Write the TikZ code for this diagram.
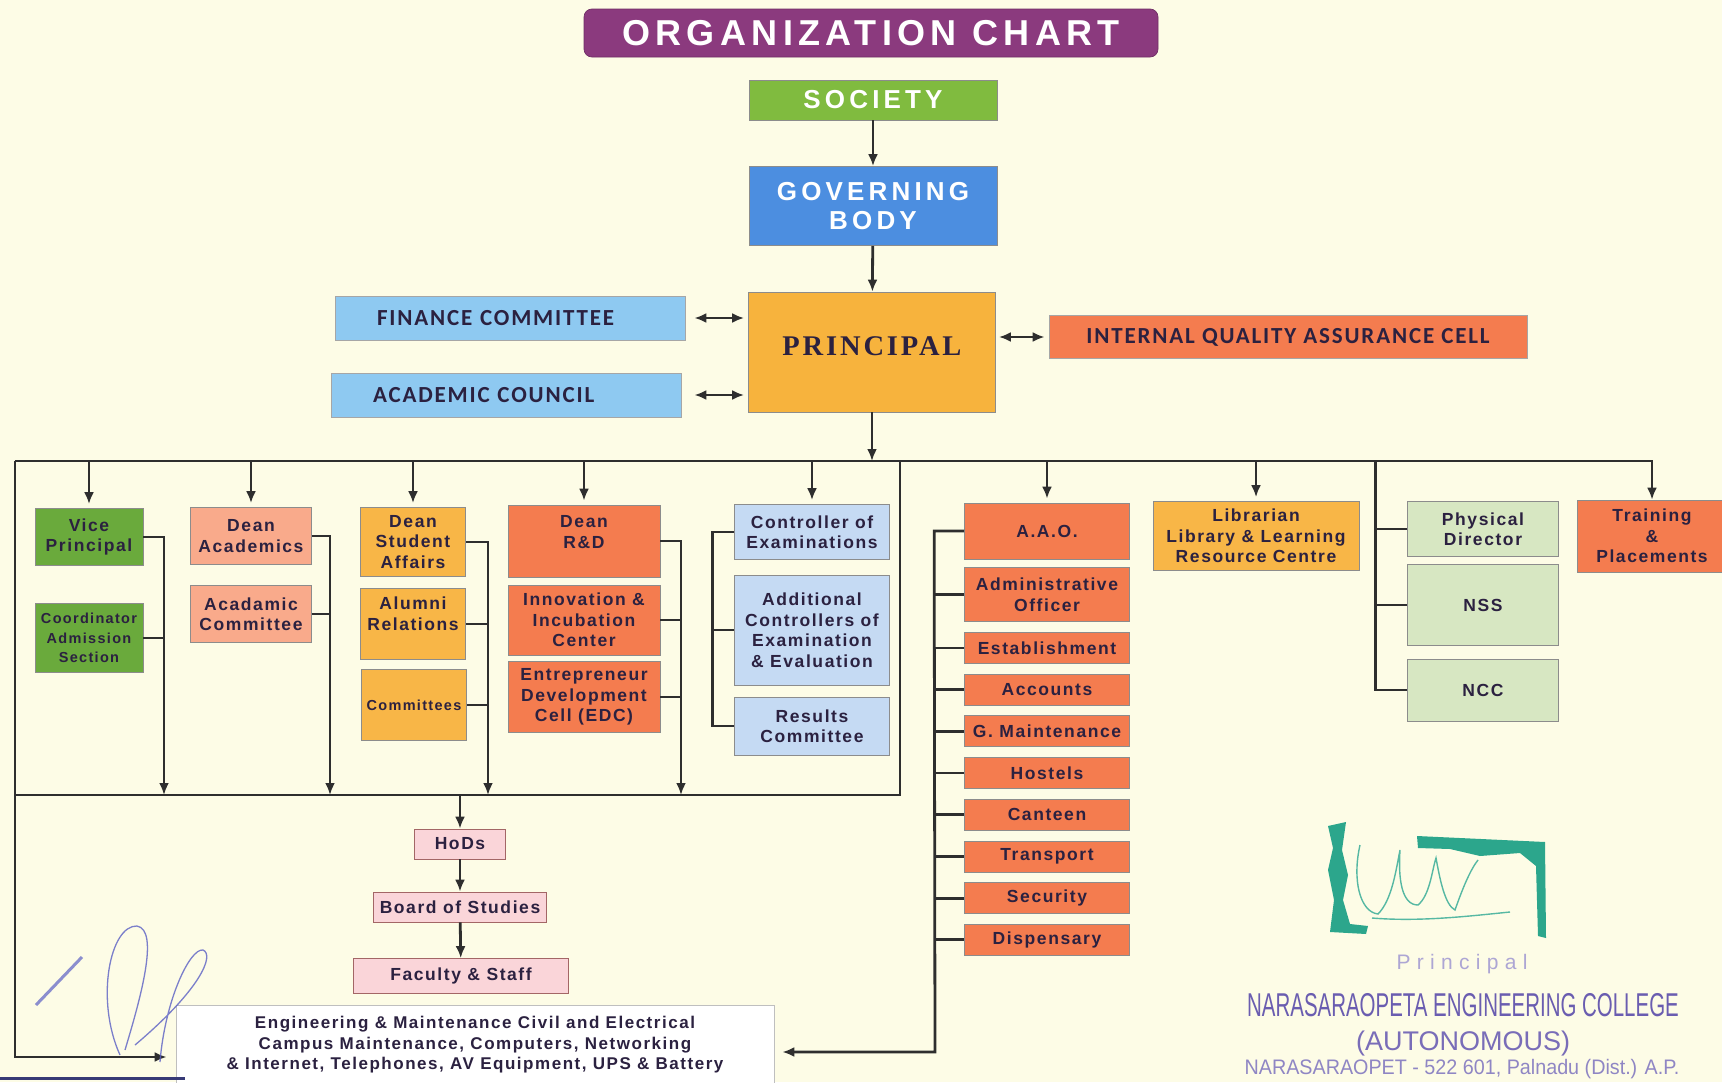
\documentclass[tikz,border=0pt]{standalone}
\usepackage{fontspec}
\setmainfont{Liberation Sans}
\newfontfamily\headfont{Liberation Sans}[LetterSpace=16]
\newfontfamily\titlefont{Liberation Sans}[LetterSpace=15]
\newfontfamily\boxfont{Liberation Sans}[LetterSpace=9]
\newfontfamily\cmtfont{Carlito}[LetterSpace=8]
\newfontfamily\prinfont{Liberation Serif}[LetterSpace=10]
\newfontfamily\stampfont{Liberation Sans}
\usetikzlibrary{arrows.meta,positioning}

\definecolor{paper}{HTML}{FDFCE6}
\definecolor{ink}{HTML}{2B2140}
\definecolor{wire}{HTML}{2E2E2E}
\definecolor{titleplum}{HTML}{8B3A7E}
\definecolor{socgreen}{HTML}{80BB3F}
\definecolor{govblue}{HTML}{4C8EE0}
\definecolor{prinorange}{HTML}{F7B33D}
\definecolor{cttblue}{HTML}{8EC9F1}
\definecolor{redorange}{HTML}{F47C4F}
\definecolor{vpgreen}{HTML}{6AAA3C}
\definecolor{peach}{HTML}{F9AA8B}
\definecolor{amber}{HTML}{F8B647}
\definecolor{coeblue}{HTML}{C5DAF3}
\definecolor{sage}{HTML}{D7E7C2}
\definecolor{rose}{HTML}{FAD5D9}
\definecolor{stampteal}{HTML}{2CA68C}
\definecolor{stampink}{HTML}{6A5DB0}
\definecolor{signblue}{HTML}{5B60C4}

\tikzset{
  orgbox/.style={draw=black!45, line width=0.7pt, align=center, inner sep=0pt, text=ink,
    font=\boxfont\bfseries\fontsize{17.5}{20.5}\selectfont},
  headbox/.style={orgbox, text=white, font=\headfont\bfseries\fontsize{26}{29}\selectfont},
  cttbox/.style={orgbox, fill=cttblue, draw=black!35, font=\cmtfont\bfseries\fontsize{23}{26}\selectfont},
  rowbox/.style={orgbox, fill=redorange, minimum width=165, minimum height=31},
  smallfont/.style={font=\boxfont\bfseries\fontsize{14.5}{19.5}\selectfont},
  drop/.style={->, shorten >=4pt},
}

\begin{document}
\begin{tikzpicture}[x=1pt, y=-1pt, line width=2.8pt, color=wire,
  >={Latex[length=12pt,width=10pt]}]
  \clip (0,0) rectangle (1722,1082);
  \fill[paper] (0,0) rectangle (1722,1082);

  % head of the chart
  \node[headbox, fill=titleplum, draw=titleplum!80!black, rounded corners=8pt,
    minimum width=574, minimum height=48,
    font=\titlefont\bfseries\fontsize{36}{38}\selectfont] (title) at (871,33) {ORGANIZATION CHART};
  \node[headbox, fill=socgreen, minimum width=248, minimum height=40] (soc) at (873,100) {SOCIETY};
  \node[headbox, fill=govblue, minimum width=248, minimum height=79] (gov) at (873,206) {GOVERNING\\BODY};
  \node[orgbox, fill=prinorange, minimum width=247, minimum height=120,
    font=\prinfont\bfseries\fontsize{28.5}{30}\selectfont] (prin) at (872,352) {\raisebox{6pt}[\height][\depth]{PRINCIPAL}};
  \node[cttbox, text width=266, inner xsep=42, minimum height=44, align=left] (fin) at (510,318) {FINANCE COMMITTEE};
  \node[cttbox, text width=266, inner xsep=42, minimum height=44, align=left] (acd) at (506,395) {ACADEMIC COUNCIL};
  \node[cttbox, fill=redorange, minimum width=478, minimum height=43] (iqac) at (1288,337) {INTERNAL QUALITY ASSURANCE CELL};

  % academic side
  \node[orgbox, fill=vpgreen, minimum width=108, minimum height=57] (vp) at (89,537) {Vice\\Principal};
  \node[orgbox, fill=vpgreen, minimum width=108, minimum height=69, smallfont] (cas) at (89,638) {Coordinator\\Admission\\Section};
  \node[orgbox, fill=peach, minimum width=121, minimum height=57] (da) at (251,536) {Dean\\Academics};
  \node[orgbox, fill=peach, minimum width=121, minimum height=57] (acm) at (251,614) {Acadamic\\Committee};
  \node[orgbox, fill=amber, minimum width=105, minimum height=69] (dsa) at (413,542) {Dean\\Student\\Affairs};
  \node[orgbox, fill=amber, minimum width=105, minimum height=71] (alr) at (413,624) {Alumni\\Relations\\~};
  \node[orgbox, fill=amber, minimum width=105, minimum height=71, smallfont] (cmt) at (414,705) {Committees};
  \node[orgbox, fill=redorange, minimum width=152, minimum height=72] (rd) at (584,541)
    {\raisebox{7pt}[\height][\depth]{\begin{tabular}{@{}c@{}}Dean\\R\&D\end{tabular}}};
  \node[orgbox, fill=redorange, minimum width=152, minimum height=70] (inn) at (584,620) {Innovation \&\\Incubation\\Center};
  \node[orgbox, fill=redorange, minimum width=152, minimum height=71] (edc) at (584,697) {Entrepreneur\\Development\\Cell (EDC)};
  \node[orgbox, fill=coeblue, minimum width=155, minimum height=55] (coe) at (812,532) {Controller of\\Examinations};
  \node[orgbox, fill=coeblue, minimum width=155, minimum height=110] (ace) at (812,630) {Additional\\Controllers of\\Examination\\\& Evaluation};
  \node[orgbox, fill=coeblue, minimum width=155, minimum height=58] (rsc) at (812,726) {Results\\Committee};

  \node[orgbox, fill=rose, draw=red!40!black!60, minimum width=91, minimum height=30] (hod) at (460,844) {HoDs};
  \node[orgbox, fill=rose, draw=red!40!black!60, minimum width=173, minimum height=30] (bos) at (460,907) {Board of Studies};
  \node[orgbox, fill=rose, draw=red!40!black!60, minimum width=215, minimum height=35] (fac) at (461,976) {Faculty \& Staff};
  \node[orgbox, fill=white, draw=black!25, minimum width=598, minimum height=80,
    font=\boxfont\bfseries\fontsize{17}{20.5}\selectfont] (eng) at (475,1045)
    {Engineering \& Maintenance Civil and Electrical\\Campus Maintenance, Computers, Networking\\\& Internet, Telephones, AV Equipment, UPS \& Battery};

  % administrative side
  \node[orgbox, fill=redorange, minimum width=165, minimum height=56] (aao) at (1047,531) {A.A.O.};
  \node[orgbox, fill=redorange, minimum width=165, minimum height=54, below=8pt of aao] (ado) {Administrative\\Officer};
  \node[rowbox, below=10pt of ado] (est) {Establishment};
  \node[rowbox, below=10pt of est] (acc) {Accounts};
  \node[rowbox, below=10pt of acc] (gmt) {G. Maintenance};
  \node[rowbox, below=10pt of gmt] (hos) {Hostels};
  \node[rowbox, below=10pt of hos] (can) {Canteen};
  \node[rowbox, below=10pt of can] (trn) {Transport};
  \node[rowbox, below=10pt of trn] (sec) {Security};
  \node[rowbox, below=10pt of sec] (dis) {Dispensary};

  \node[orgbox, fill=amber, minimum width=206, minimum height=69] (lib) at (1256,536) {Librarian\\Library \& Learning\\Resource Centre};
  \node[orgbox, fill=sage, minimum width=151, minimum height=55] (pd) at (1483,529) {Physical\\Director};
  \node[orgbox, fill=sage, minimum width=151, minimum height=81] (nss) at (1483,605) {NSS};
  \node[orgbox, fill=sage, minimum width=151, minimum height=62] (ncc) at (1483,690) {NCC};
  \node[orgbox, fill=redorange, minimum width=150, minimum height=72] (tp) at (1652,536) {Training\\\&\\Placements};

  % bus lines
  \coordinate (tl) at (15,461);
  \coordinate (rt) at (900,461);
  \coordinate (lb) at (15,795);
  \coordinate (rb) at (900,795);
  \coordinate (ea) at (15,1057);
  \coordinate (ab) at (935,1052);
  \coordinate (vpb) at (164,795);
  \coordinate (dab) at (330,795);
  \coordinate (sab) at (488,795);
  \coordinate (rdb) at (681,795);

  % connectors
  \draw[->] (soc) -- (gov);
  \draw[->] (gov) -- (prin);
  \draw[<->, shorten <=9pt, shorten >=4pt] (fin.east) -- (fin.east -| prin.west);
  \draw[<->, shorten <=13pt, shorten >=4pt] (acd.east) -- (acd.east -| prin.west);
  \draw[<->, shorten <=3pt, shorten >=4pt] (prin.east |- iqac.west) -- (iqac.west);
  \draw[->] (prin.south) -- (prin.south |- tl);
  \draw[->] (tl) -- (tp.north |- tl) -- (tp.north);
  \draw[->, shorten >=9pt] (tl) -- (ea) -- (eng.west |- ea);
  \draw (rt) -- (rb) -- (lb);

  \draw[drop] (vp.north |- tl) -- (vp.north);
  \draw[drop] (da.north |- tl) -- (da.north);
  \draw[drop] (dsa.north |- tl) -- (dsa.north);
  \draw[drop] (rd.north |- tl) -- (rd.north);
  \draw[drop] (coe.north |- tl) -- (coe.north);
  \draw[drop] (aao.north |- tl) -- (aao.north);
  \draw[drop] (lib.north |- tl) -- (lib.north);

  \draw[->] (vp.east) -| (vpb);
  \draw (cas.east) -- (cas.east -| vpb);
  \draw[->] (da.east) -| (dab);
  \draw (acm.east) -- (acm.east -| dab);
  \draw[->] (dsa.east) -| (sab);
  \draw (alr.east) -- (alr.east -| sab);
  \draw (cmt.east) -- (cmt.east -| sab);
  \draw[->] (rd.east) -| (rdb);
  \draw (inn.east) -- (inn.east -| rdb);
  \draw (edc.east) -- (edc.east -| rdb);
  \draw (coe.west) -- ++(-22,0) |- (rsc.west);
  \draw (ace.west) -- ++(-22,0);

  \draw[->] (hod.north |- lb) -- (hod);
  \draw[->] (hod) -- (bos);
  \draw[->] (bos) -- (fac);

  \draw[->, shorten >=8pt] (aao.west) -- ++(-30,0) -- (ab) -- (eng.east |- ab);
  \foreach \n in {ado,est,acc,gmt,hos,can,trn,sec,dis}
    \draw (\n.west) -- ++(-30,0);

  \draw (pd.west) -- ++(-32,0);
  \draw (nss.west) -- ++(-32,0);
  \draw (ncc.west) -- ++(-32,0) -- ([xshift=-32pt]pd.west |- tl);

  % stamp and signatures
  \fill[stampteal] (1328,826) -- (1346,822) -- (1342,850) -- (1348,875) -- (1343,900) -- (1350,924)
    -- (1368,926) -- (1366,934) -- (1330,932) -- (1334,900) -- (1328,870) -- (1333,848) -- cycle;
  \fill[stampteal] (1417,836) -- (1545,842) -- (1546,938) -- (1538,936) -- (1536,866) -- (1520,853)
    -- (1480,856) -- (1450,849) -- (1418,848) -- cycle;
  \draw[stampteal!80, line width=1.4pt] (1360,845) .. controls (1352,880) and (1360,912) .. (1378,914)
    .. controls (1392,900) and (1396,870) .. (1400,850) .. controls (1398,880) and (1402,905) .. (1418,905)
    .. controls (1430,895) and (1432,870) .. (1436,858) .. controls (1440,880) and (1445,905) .. (1455,910)
    .. controls (1462,890) and (1470,870) .. (1478,860);
  \draw[stampteal!80, line width=1.4pt] (1372,918) .. controls (1420,922) and (1470,916) .. (1510,912);

  \node[text=stampink!55, font=\stampfont\addfontfeatures{LetterSpace=30}\fontsize{21}{21}\selectfont] (stp) at (1462,964) {Principal};
  \node[text=stampink, font=\stampfont\fontsize{33}{33}\selectfont] (stn) at (1463,1005) {\scalebox{0.62}[1]{NARASARAOPETA ENGINEERING COLLEGE}};
  \node[text=stampink!90, font=\stampfont\fontsize{27}{27}\selectfont] (sta) at (1463,1043) {(AUTONOMOUS)};
  \node[text=stampink!75, font=\stampfont\fontsize{21}{21}\selectfont, anchor=south, inner sep=1pt] (stc) at (1462,1081) {\scalebox{0.94}[1]{NARASARAOPET - 522 601, Palnadu (Dist.) A.P.}};

  \draw[signblue, line width=1.3pt, opacity=0.8] (120,1055) .. controls (95,1000) and (110,925) .. (137,926)
    .. controls (160,930) and (140,1000) .. (125,1050);
  \draw[signblue, line width=1.3pt, opacity=0.8] (160,1062) .. controls (165,1000) and (190,948) .. (203,950)
    .. controls (215,955) and (200,990) .. (135,1045);
  \draw[signblue, line width=3pt, opacity=0.7] (36,1005) -- (82,957);
  \draw[signblue!60!black, line width=3pt] (0,1078) -- (185,1078);
\end{tikzpicture}
\end{document}
